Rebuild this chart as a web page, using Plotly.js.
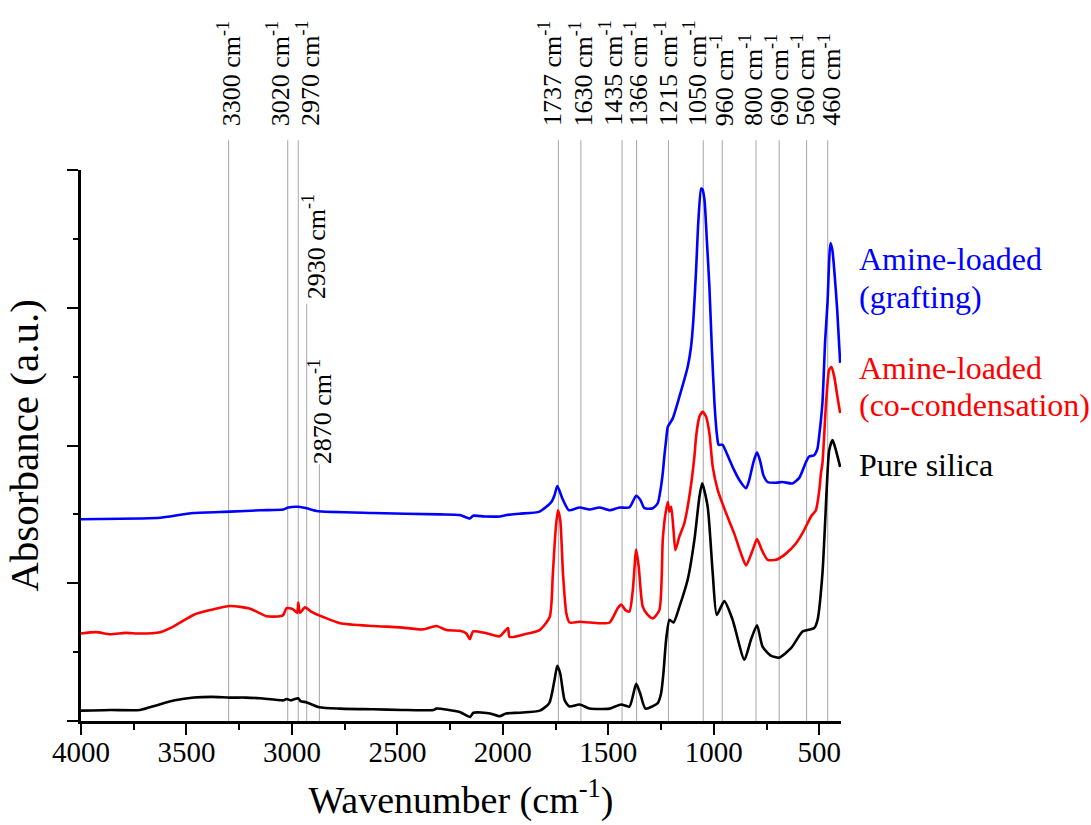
<!DOCTYPE html>
<html><head><meta charset="utf-8">
<script src="https://cdn.plot.ly/plotly-3.0.1.min.js"></script>
<style>html,body{margin:0;padding:0;background:#fff}</style>
</head><body><div id="chart" style="width:1091px;height:825px"></div>
<script>
// ---- data ----
const wnPure = [4000,3860,3720,3640,3555,3465,3380,3295,3220,3150,3040,3025,3005,2970,2960,2930,2870,2775,2615,2480,2330,2315,2205,2155,2140,2060,2015,1985,1920,1825,1780,1755,1742,1728,1707,1684,1636,1589,1494,1439,1400,1368,1349,1324,1266,1250,1239,1226,1210,1191,1163,1124,1092,1068,1055,1029,1005,986,950,911,855,824,795,769,730,690,633,579,524,508,485,461,453,437,421,401];
const absPure = [0.15,0.16,0.16,0.23,0.30,0.34,0.35,0.34,0.34,0.33,0.30,0.32,0.30,0.33,0.29,0.27,0.20,0.18,0.17,0.16,0.16,0.18,0.13,0.06,0.12,0.11,0.07,0.11,0.12,0.15,0.26,0.60,0.80,0.69,0.30,0.21,0.24,0.18,0.18,0.24,0.21,0.54,0.40,0.18,0.26,0.40,0.69,1.18,1.47,1.43,1.66,2.05,2.63,3.26,3.45,3.11,2.14,1.54,1.74,1.47,0.89,1.18,1.39,1.08,0.95,0.92,1.06,1.30,1.35,1.47,2.14,3.60,3.93,4.08,3.93,3.69];

const wnCocond = [4000,3930,3860,3790,3720,3625,3562,3467,3388,3293,3198,3120,3057,3041,3025,2994,2975,2970,2962,2938,2905,2852,2772,2616,2488,2380,2315,2267,2204,2173,2157,2141,2086,2015,1976,1968,1897,1826,1778,1763,1750,1739,1728,1715,1699,1684,1636,1542,1494,1455,1439,1419,1400,1384,1368,1356,1337,1313,1289,1258,1242,1231,1218,1210,1202,1191,1182,1163,1140,1116,1092,1084,1068,1053,1037,1021,1005,981,942,903,871,847,816,795,772,745,705,658,610,579,539,516,500,492,485,468,453,442,429,414,401];
const absCocond = [1.27,1.29,1.26,1.28,1.27,1.29,1.37,1.54,1.61,1.67,1.63,1.52,1.52,1.54,1.64,1.62,1.57,1.72,1.57,1.65,1.58,1.51,1.42,1.38,1.36,1.33,1.38,1.32,1.31,1.27,1.19,1.30,1.28,1.23,1.35,1.22,1.26,1.32,1.51,2.14,2.77,3.06,2.92,2.14,1.56,1.43,1.44,1.42,1.43,1.64,1.69,1.61,1.59,1.90,2.49,2.24,1.66,1.54,1.49,1.61,2.63,2.97,3.18,3.04,3.11,2.77,2.48,2.68,2.87,3.26,3.84,4.13,4.42,4.49,4.42,4.18,3.69,3.35,3.02,2.72,2.43,2.26,2.48,2.64,2.48,2.34,2.34,2.43,2.58,2.73,2.97,3.06,3.35,3.60,3.74,4.61,5.10,5.14,5.00,4.71,4.47];

const wnGraft = [4000,3720,3625,3467,3293,3150,3041,3017,2970,2930,2883,2616,2299,2204,2157,2141,2086,2015,1983,1922,1826,1770,1755,1742,1715,1687,1636,1589,1542,1494,1447,1400,1368,1348,1329,1289,1266,1253,1242,1234,1226,1218,1195,1163,1124,1108,1097,1084,1073,1060,1054,1044,1033,1021,1009,997,985,977,958,945,911,879,847,832,812,795,779,765,745,705,674,627,595,563,548,524,509,500,485,472,461,447,438,429,415,401];
const absGraft = [2.93,2.94,2.95,3.02,3.04,3.06,3.07,3.10,3.11,3.09,3.05,3.02,3.00,2.99,2.94,2.98,2.97,2.97,2.99,3.01,3.04,3.18,3.28,3.41,3.21,3.06,3.10,3.07,3.10,3.06,3.10,3.10,3.27,3.21,3.09,3.09,3.16,3.35,3.60,3.86,4.08,4.27,4.39,4.71,5.14,5.43,5.82,6.55,7.27,7.73,7.72,7.56,6.98,6.31,5.39,4.62,4.15,4.01,4.01,3.93,3.69,3.50,3.38,3.50,3.76,3.90,3.76,3.57,3.47,3.46,3.47,3.45,3.53,3.76,3.84,3.86,3.95,4.15,4.62,5.53,6.07,6.94,6.84,6.55,5.97,5.20];

const seriesNames = ['Pure silica', 'Amine-loaded (co-condensation)', 'Amine-loaded (grafting)'];
const peakLines = [3300,3020,2970,2930,2870,1737,1630,1435,1366,1215,1050,960,800,690,560,460];
const xTickVals = [4000,3500,3000,2500,2000,1500,1000,500];

// ---- styling / layout ----
const FONT = 'Liberation Serif, Times New Roman, serif';
const colors = ['#000000', '#ff0000', '#0000ff'];
const xs = [wnPure, wnCocond, wnGraft];
const ys = [absPure, absCocond, absGraft];

const traces = xs.map((x, i) => ({
  type: 'scatter', mode: 'lines', x: x, y: ys[i], name: seriesNames[i],
  line: {color: colors[i], width: 2.6, shape: 'spline', smoothing: 0.6},
  hoverinfo: 'x+y+name'
}));

// label placement tweaks (px) and line tops (paper)
const labelShift = {3300:1,3020:-9,2970:10,2930:8,2870:2,1737:-8,1630:1,1435:-10,1366:0,1215:-2,1050:-8,960:0,800:-5,690:-2,560:-3,460:2};
const lineTop = {2930:0.757, 2870:0.466};
const labelBottom = {2930:0.762, 2870:0.462};

const shapes = peakLines.map(v => ({
  type: 'line', xref: 'x', yref: 'paper', x0: v, x1: v, y0: 0,
  y1: (lineTop[v] !== undefined ? lineTop[v] : 1.054),
  line: {color: 'rgb(165,165,165)', width: 1}, layer: 'below'
}));

const annotations = peakLines.map(v => ({
  xref: 'x', yref: 'paper', x: v,
  y: (labelBottom[v] !== undefined ? labelBottom[v] : 1.076),
  text: v + ' cm<sup>-1</sup>', textangle: -90, showarrow: false,
  xanchor: 'center', yanchor: 'bottom', xshift: labelShift[v],
  font: {family: FONT, size: 26, color: '#000'}
}));

// series name labels at right
const nameLines = [
  {t: 'Amine-loaded', y: 0.8385, c: colors[2]},
  {t: '(grafting)', y: 0.7695, c: colors[2]},
  {t: 'Amine-loaded', y: 0.6407, c: colors[1]},
  {t: '(co-condensation)', y: 0.5735, c: colors[1]},
  {t: 'Pure silica', y: 0.4646, c: colors[0]}
];
nameLines.forEach(n => annotations.push({
  xref: 'paper', yref: 'paper', x: 1.0215, y: n.y, text: n.t, showarrow: false,
  xanchor: 'left', yanchor: 'middle', font: {family: FONT, size: 32, color: n.c}
}));

const layout = {
  width: 1091, height: 825,
  margin: {l: 81, r: 250, t: 170, b: 104},
  paper_bgcolor: '#fff', plot_bgcolor: '#fff',
  showlegend: false,
  font: {family: FONT, color: '#000'},
  xaxis: {
    range: [4000, 397], tickvals: xTickVals, ticktext: xTickVals.map(String),
    ticks: 'outside', ticklen: 11, tickwidth: 2, tickcolor: '#000',
    ticklabelstandoff: -8,
    minor: {tickvals: [3750,3250,2750,2250,1750,1250,750], ticks: 'outside', ticklen: 6, tickwidth: 2, tickcolor: '#000'},
    showline: true, linewidth: 2.5, linecolor: '#000', mirror: false,
    showgrid: false, zeroline: false,
    tickfont: {family: FONT, size: 29, color: '#000'},
    title: {text: 'Wavenumber (cm<sup>-1</sup>)', font: {family: FONT, size: 38, color: '#000'}, standoff: 20},
    automargin: false
  },
  yaxis: {
    range: [0, 8], dtick: 2, tick0: 0,
    ticks: 'outside', ticklen: 11, tickwidth: 2, tickcolor: '#000',
    minor: {dtick: 1, ticks: 'outside', ticklen: 5, tickwidth: 2, tickcolor: '#000'},
    showticklabels: false,
    showline: true, linewidth: 2.5, linecolor: '#000', mirror: false,
    showgrid: false, zeroline: false,
    title: {text: 'Absorbance (a.u.)', font: {family: FONT, size: 41, color: '#000'}, standoff: 16},
    automargin: false
  },
  shapes: shapes,
  annotations: annotations
};

Plotly.newPlot('chart', traces, layout, {displayModeBar: false, responsive: false});
</script>
</body></html>
